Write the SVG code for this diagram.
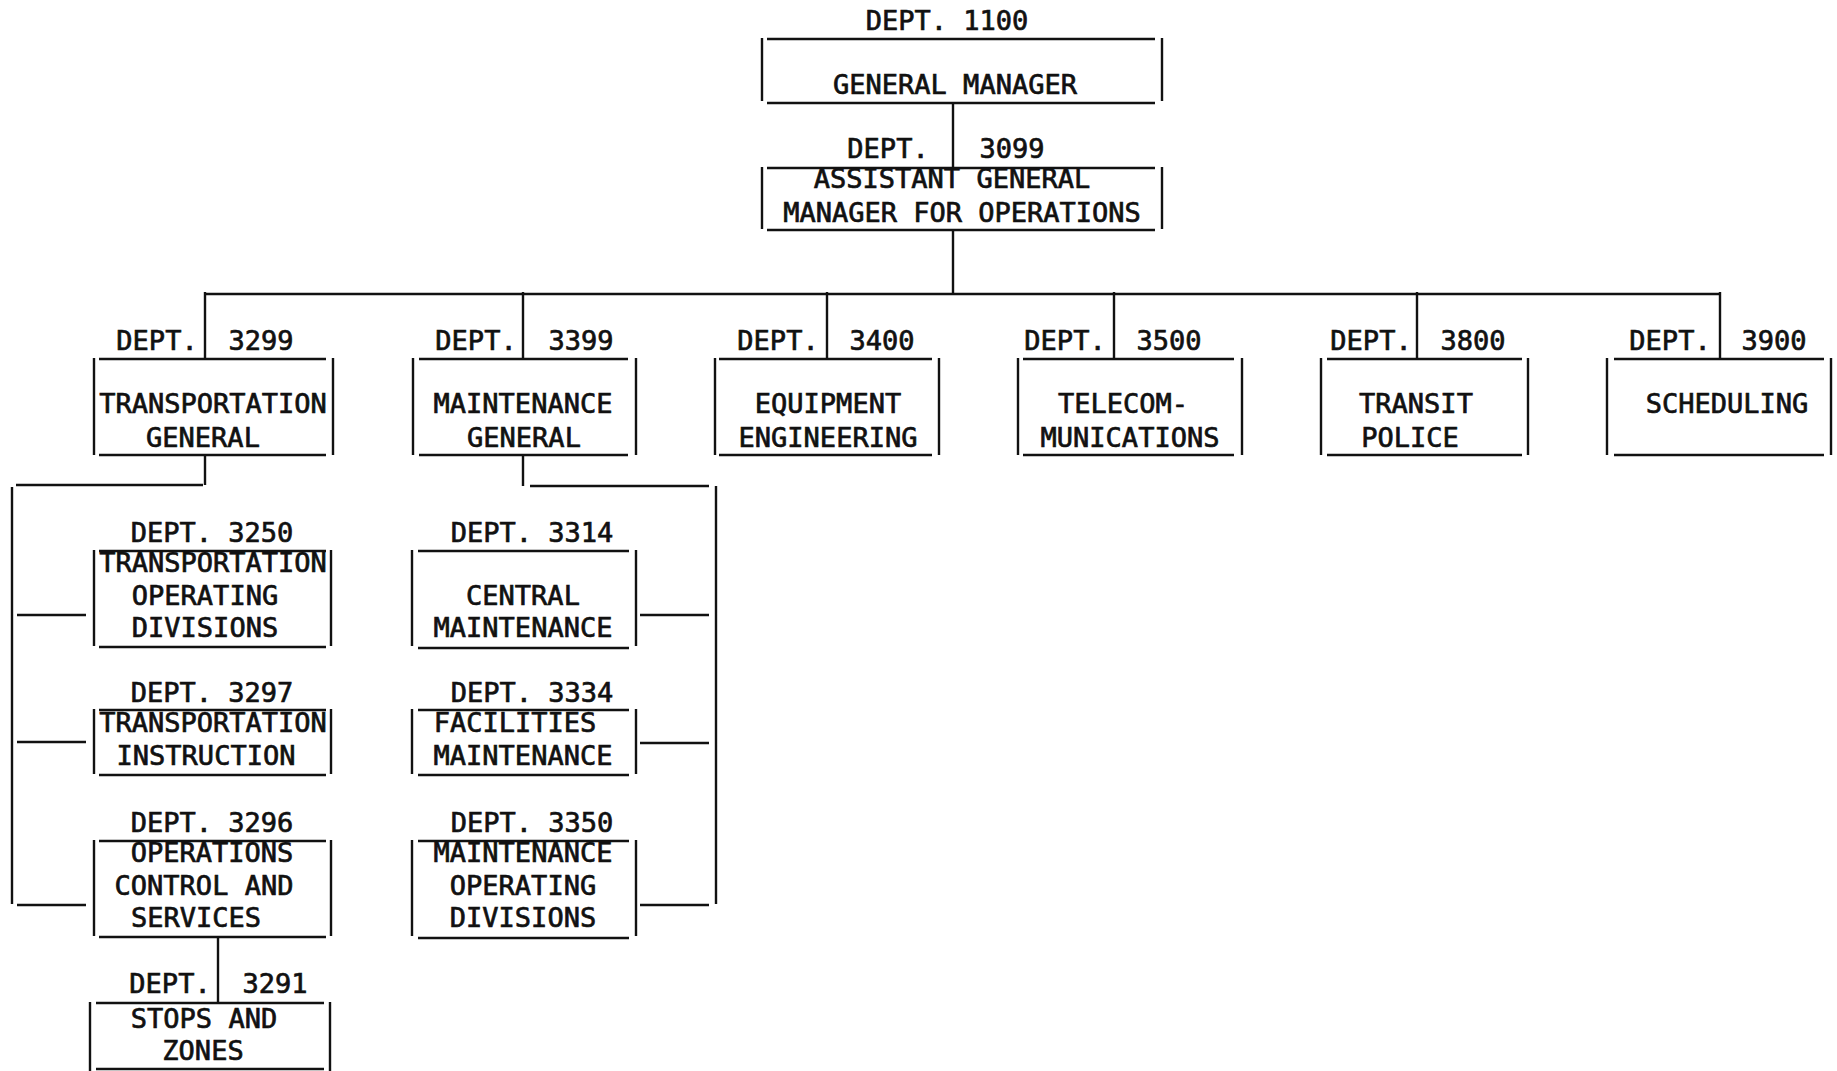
<svg xmlns="http://www.w3.org/2000/svg" width="1837" height="1071" viewBox="0 0 1837 1071">
<style>
.ln{stroke:#111;stroke-width:2.4;fill:none}
.t{font-family:"DejaVu Sans Mono","Liberation Mono",monospace;font-size:27px;text-anchor:middle;fill:#111;stroke:#111;stroke-width:0.7}
</style>
<rect x="0" y="0" width="1837" height="1071" fill="#fff"/>
<g id="connectors" class="ln">
<path d="M953 103V168"/>
<path d="M953 230V294"/>
<path d="M205 294H1720"/>
<path d="M205 292V359M523 292V359M827 292V359M1114 292V359M1417 292V359M1720 292V359"/>
<path d="M205 455V485M16 485H203M12 487V904M17 615H86M17 742H86M17 905H86"/>
<path d="M523 455V486M530 486H709M716 486V904M640 615H709M640 743H709M640 905H709"/>
<path d="M218 937V1003"/>
</g>
<g id="n1100">
<path class="ln" d="M767 39H1155M767 103H1155M762 38V101M1162 38V101"/>
<text class="t" x="947" y="30">DEPT. 1100</text>
<text class="t" x="955" y="94">GENERAL MANAGER</text>
</g>
<g id="n3099">
<path class="ln" d="M767 168H1155M767 230H1155M762 167V229M1162 167V229"/>
<text class="t" x="888" y="158">DEPT.</text>
<text class="t" x="1012" y="158">3099</text>
<text class="t" x="952" y="188">ASSISTANT GENERAL</text>
<text class="t" x="962" y="222">MANAGER FOR OPERATIONS</text>
</g>
<g id="n3299">
<path class="ln" d="M99 359H326M99 455H326M94 358V455M333 358V455"/>
<text class="t" x="157" y="350">DEPT.</text>
<text class="t" x="261" y="350">3299</text>
<text class="t" x="213" y="413">TRANSPORTATION</text>
<text class="t" x="203" y="447">GENERAL</text>
</g>
<g id="n3399">
<path class="ln" d="M419 359H628M419 455H628M413 358V455M636 358V455"/>
<text class="t" x="476" y="350">DEPT.</text>
<text class="t" x="581" y="350">3399</text>
<text class="t" x="523" y="413">MAINTENANCE</text>
<text class="t" x="524" y="447">GENERAL</text>
</g>
<g id="n3400">
<path class="ln" d="M719 359H932M719 455H932M715 358V455M939 358V455"/>
<text class="t" x="778" y="350">DEPT.</text>
<text class="t" x="882" y="350">3400</text>
<text class="t" x="828" y="413">EQUIPMENT</text>
<text class="t" x="828" y="447">ENGINEERING</text>
</g>
<g id="n3500">
<path class="ln" d="M1023 359H1234M1023 455H1234M1018 358V455M1242 358V455"/>
<text class="t" x="1065" y="350">DEPT.</text>
<text class="t" x="1169" y="350">3500</text>
<text class="t" x="1123" y="413">TELECOM-</text>
<text class="t" x="1130" y="447">MUNICATIONS</text>
</g>
<g id="n3800">
<path class="ln" d="M1327 359H1522M1327 455H1522M1321 358V455M1528 358V455"/>
<text class="t" x="1371" y="350">DEPT.</text>
<text class="t" x="1473" y="350">3800</text>
<text class="t" x="1416" y="413">TRANSIT</text>
<text class="t" x="1410" y="447">POLICE</text>
</g>
<g id="n3900">
<path class="ln" d="M1614 359H1824M1614 455H1824M1607 358V455M1831 358V455"/>
<text class="t" x="1670" y="350">DEPT.</text>
<text class="t" x="1774" y="350">3900</text>
<text class="t" x="1727" y="413">SCHEDULING</text>
</g>
<g id="n3250">
<path class="ln" d="M99 551H326M99 647H326M94 550V646M331 550V646"/>
<text class="t" x="212" y="542">DEPT. 3250</text>
<text class="t" x="213" y="572">TRANSPORTATION</text>
<text class="t" x="205" y="605">OPERATING</text>
<text class="t" x="205" y="637">DIVISIONS</text>
</g>
<g id="n3297">
<path class="ln" d="M99 710H326M99 775H326M94 709V774M331 709V774"/>
<text class="t" x="212" y="702">DEPT. 3297</text>
<text class="t" x="213" y="732">TRANSPORTATION</text>
<text class="t" x="206" y="765">INSTRUCTION</text>
</g>
<g id="n3296">
<path class="ln" d="M99 841H326M99 937H326M94 840V936M331 840V936"/>
<text class="t" x="212" y="832">DEPT. 3296</text>
<text class="t" x="212" y="862">OPERATIONS</text>
<text class="t" x="204" y="895">CONTROL AND</text>
<text class="t" x="196" y="927">SERVICES</text>
</g>
<g id="n3291">
<path class="ln" d="M96 1003H324M96 1069H324M90 1002V1071M330 1002V1071"/>
<text class="t" x="170" y="993">DEPT.</text>
<text class="t" x="275" y="993">3291</text>
<text class="t" x="204" y="1028">STOPS AND</text>
<text class="t" x="203" y="1060">ZONES</text>
</g>
<g id="n3314">
<path class="ln" d="M418 551H629M418 648H629M412 550V646M636 550V646"/>
<text class="t" x="532" y="542">DEPT. 3314</text>
<text class="t" x="523" y="605">CENTRAL</text>
<text class="t" x="523" y="637">MAINTENANCE</text>
</g>
<g id="n3334">
<path class="ln" d="M418 710H629M418 775H629M412 709V774M636 709V774"/>
<text class="t" x="532" y="702">DEPT. 3334</text>
<text class="t" x="515" y="732">FACILITIES</text>
<text class="t" x="523" y="765">MAINTENANCE</text>
</g>
<g id="n3350">
<path class="ln" d="M418 841H629M418 938H629M412 840V936M636 840V936"/>
<text class="t" x="532" y="832">DEPT. 3350</text>
<text class="t" x="523" y="862">MAINTENANCE</text>
<text class="t" x="523" y="895">OPERATING</text>
<text class="t" x="523" y="927">DIVISIONS</text>
</g>
</svg>
